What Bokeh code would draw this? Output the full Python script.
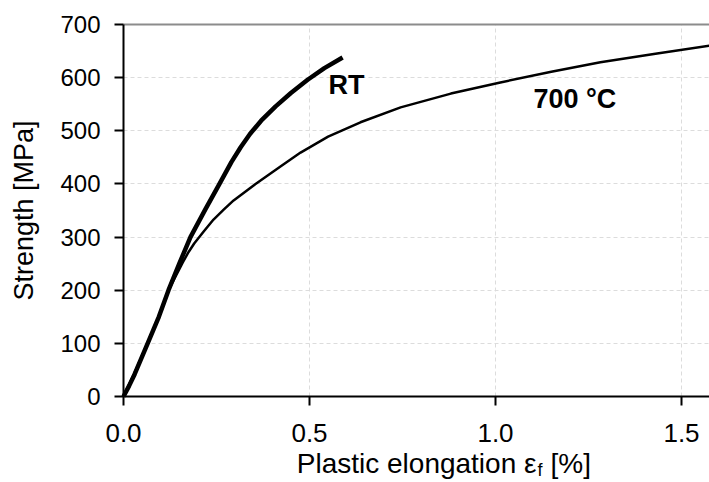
import math
from bokeh.plotting import figure
from bokeh.models import FixedTicker, PrintfTickFormatter, LinearAxis, Range1d
from bokeh.core.properties import value
from bokeh.embed import file_html
from bokeh.resources import INLINE

# Data
rt_x = [0.0, 0.015, 0.03, 0.065, 0.095, 0.121, 0.15, 0.18, 0.22, 0.258, 0.29, 0.315, 0.34, 0.37, 0.409, 0.45, 0.495, 0.54, 0.589]
rt_y = [0, 20, 42, 100, 150, 200, 250, 300, 352, 400, 441, 469, 494, 519, 546, 571, 596, 618, 638]

ht_x = [0.0, 0.03, 0.065, 0.095, 0.121, 0.159, 0.175, 0.19, 0.215, 0.242, 0.27, 0.296, 0.355, 0.42, 0.476, 0.55, 0.637, 0.745, 0.88, 1.013, 1.15, 1.282, 1.43, 1.575]
ht_y = [0, 45, 100, 150, 200, 252, 272, 288, 310, 333, 352, 369, 400, 432, 459, 489, 516, 544, 570, 591, 611, 629, 645, 660]

x_ticks = [0.0, 0.5, 1.0, 1.5]
y_ticks = [0, 100, 200, 300, 400, 500, 600, 700]
y_min, y_max = 0, 700

FONT = "Liberation Sans"

# layout constants (pixels): the plotting area of the reference
W, H = 709, 482
FRAME_L, FRAME_T, FRAME_B = 123, 24, 396
PX_PER_X = 372.0
PX_PER_Y = (FRAME_B - FRAME_T) / (y_max - y_min)
X_END = (W - FRAME_L) / PX_PER_X


def sx(px):  # page pixel -> x data
    return (px - FRAME_L) / PX_PER_X


def sy(py):  # page pixel -> y data
    return (FRAME_B - py) / PX_PER_Y


p = figure(width=W, height=H, output_backend="svg", toolbar_location=None,
           x_range=Range1d(sx(0), sx(W)), y_range=Range1d(sy(H), sy(0)),
           min_border_left=0, min_border_right=0, min_border_top=0, min_border_bottom=0)
p.outline_line_color = None

for ax in (p.xaxis[0], p.yaxis[0]):
    ax.fixed_location = 0
    ax.axis_line_width = 2
    ax.axis_line_color = "black"
    ax.major_tick_line_width = 2
    ax.major_tick_line_color = "black"
    ax.major_tick_out = 9
    ax.major_tick_in = 0
    ax.minor_tick_line_color = None
    ax.major_label_text_font = FONT
    ax.major_label_text_color = "black"

p.xaxis.bounds = (0, X_END)
p.xaxis.ticker = FixedTicker(ticks=x_ticks)
p.xaxis.formatter = PrintfTickFormatter(format="%.1f")
p.xaxis.major_label_text_font_size = "26px"
p.xaxis.major_label_standoff = 18

p.yaxis.bounds = (y_min, y_max)
p.yaxis.ticker = FixedTicker(ticks=y_ticks)
p.yaxis.major_label_text_font_size = "24px"
p.yaxis.major_label_standoff = 14

# grey top border line of the plotting area
top = LinearAxis(fixed_location=y_max, bounds=(0, X_END), ticker=FixedTicker(ticks=[]),
                 axis_line_color="#8c8c8c", axis_line_width=2,
                 major_tick_line_color=None, minor_tick_line_color=None)
p.add_layout(top, "above")

p.xgrid.ticker = FixedTicker(ticks=[0.5, 1.0, 1.5])
p.ygrid.ticker = FixedTicker(ticks=[100, 200, 300, 400, 500, 600])
for g in (p.xgrid[0], p.ygrid[0]):
    g.grid_line_color = "#dcdcdc"
    g.grid_line_dash = "4 3"
    g.grid_line_width = 1
p.xgrid.cross_bounds = (y_min, y_max)
p.ygrid.cross_bounds = (0, X_END)

p.line(ht_x, ht_y, line_color="black", line_width=2.5, line_join="round")
p.line(rt_x, rt_y, line_color="black", line_width=4.5, line_join="round")

# curve labels (baseline positions corrected for how the text is rendered)
p.text(x=[sx(328)], y=[sy(84)], text=["RT"], text_font=value(FONT), text_font_size="27px",
       text_font_style="bold", text_color="black", text_baseline="alphabetic")
p.text(x=[sx(533)], y=[sy(98)], text=["700 °C"], text_font=value(FONT), text_font_size="27px",
       text_font_style="bold", text_color="black", text_baseline="alphabetic")

# axis titles
p.text(x=[sx(23)], y=[sy((FRAME_T + FRAME_B) / 2)], text=["Strength [MPa]"], angle=math.pi / 2,
       text_font=value(FONT), text_font_size="27px", text_color="black",
       text_align="center", text_baseline="middle")
p.text(x=[sx(536)], y=[sy(463)], text=["Plastic elongation ε"], text_font=value(FONT),
       text_font_size="28px", text_color="black", text_align="right", text_baseline="alphabetic")
p.text(x=[sx(537)], y=[sy(469)], text=["f"], text_font=value(FONT),
       text_font_size="18px", text_color="black", text_align="left", text_baseline="alphabetic")
p.text(x=[sx(550)], y=[sy(463)], text=["[%]"], text_font=value(FONT),
       text_font_size="28px", text_color="black", text_align="left", text_baseline="alphabetic")

open("out.html", "w").write(file_html(p, INLINE))
